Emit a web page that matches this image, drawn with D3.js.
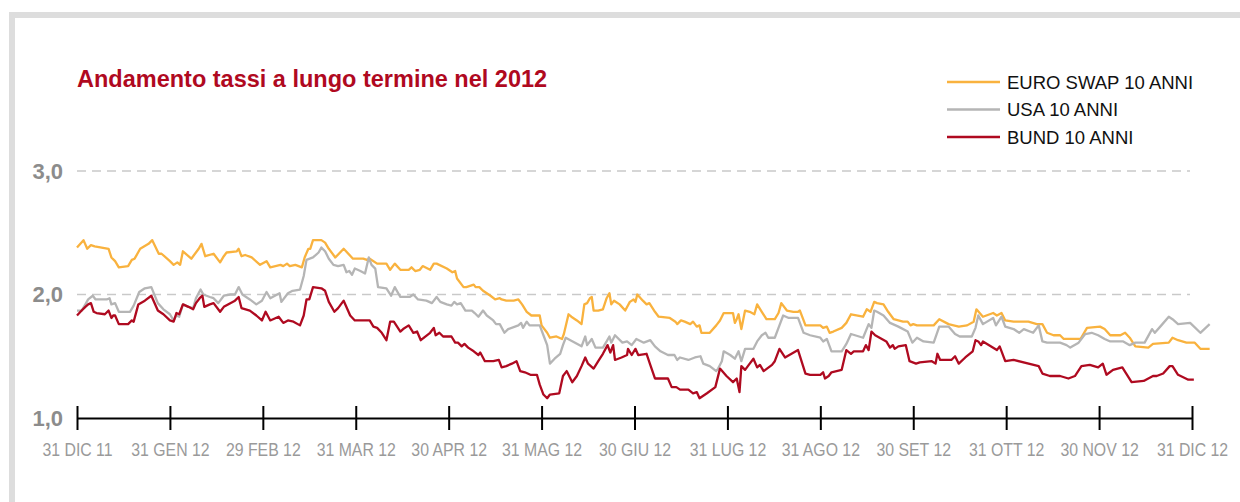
<!DOCTYPE html>
<html><head><meta charset="utf-8">
<script src="https://cdn.jsdelivr.net/npm/d3@7"></script>
<style>
html,body{margin:0;padding:0;background:#fff;}
svg{display:block;}
text{font-family:"Liberation Sans", Arial, Helvetica, sans-serif;}
</style></head><body>
<svg id="chart" width="1240" height="502"></svg>
<script>
// Month-end tick labels (evenly spaced months on the x axis)
const tickLabels = ["31 DIC 11","31 GEN 12","29 FEB 12","31 MAR 12","30 APR 12","31 MAG 12","30 GIU 12","31 LUG 12","31 AGO 12","30 SET 12","31 OTT 12","30 NOV 12","31 DIC 12"];
const yTicks = [1, 2, 3];
const gridTicks = [2, 3];
const title = "Andamento tassi a lungo termine nel 2012";
const seriesNames = ["EURO SWAP 10 ANNI", "USA 10 ANNI", "BUND 10 ANNI"];
const seriesColors = ["#f9b23e", "#b5b5b5", "#af0a20"];

// [months elapsed since 31 Dec 2011, rate %]
const euroSwap = [[0.00,2.38],[0.07,2.44],[0.11,2.37],[0.15,2.40],[0.19,2.39],[0.34,2.37],[0.37,2.30],[0.41,2.27],[0.45,2.22],[0.55,2.23],[0.59,2.28],[0.62,2.29],[0.68,2.37],[0.77,2.41],[0.81,2.44],[0.88,2.33],[0.91,2.33],[1.00,2.27],[1.04,2.24],[1.08,2.26],[1.11,2.24],[1.14,2.35],[1.23,2.29],[1.31,2.37],[1.34,2.41],[1.38,2.31],[1.47,2.33],[1.54,2.26],[1.58,2.31],[1.61,2.34],[1.72,2.35],[1.74,2.37],[1.77,2.31],[1.81,2.32],[1.88,2.30],[1.97,2.24],[2.04,2.27],[2.08,2.22],[2.19,2.24],[2.22,2.23],[2.26,2.25],[2.29,2.23],[2.35,2.24],[2.42,2.22],[2.45,2.30],[2.49,2.37],[2.51,2.37],[2.54,2.44],[2.63,2.44],[2.67,2.42],[2.71,2.37],[2.78,2.30],[2.87,2.37],[2.97,2.29],[3.08,2.29],[3.12,2.28],[3.15,2.29],[3.23,2.25],[3.33,2.25],[3.37,2.20],[3.42,2.25],[3.48,2.20],[3.57,2.20],[3.60,2.22],[3.64,2.19],[3.69,2.20],[3.72,2.23],[3.80,2.20],[3.84,2.25],[3.87,2.25],[3.98,2.21],[4.04,2.18],[4.07,2.19],[4.09,2.13],[4.16,2.06],[4.19,2.06],[4.27,2.08],[4.29,2.06],[4.33,2.06],[4.37,2.03],[4.45,1.99],[4.50,1.96],[4.55,1.97],[4.57,1.96],[4.62,1.95],[4.70,1.95],[4.75,1.96],[4.79,1.92],[4.84,1.86],[4.89,1.83],[4.98,1.83],[5.00,1.75],[5.06,1.69],[5.09,1.65],[5.16,1.66],[5.22,1.64],[5.24,1.68],[5.29,1.84],[5.32,1.82],[5.38,1.79],[5.43,1.76],[5.46,1.92],[5.49,1.93],[5.52,1.97],[5.54,1.98],[5.56,1.87],[5.61,1.87],[5.66,1.88],[5.70,1.97],[5.73,2.01],[5.75,1.92],[5.78,1.95],[5.84,1.92],[5.90,1.87],[5.95,1.94],[5.99,1.96],[6.01,1.94],[6.03,2.00],[6.09,1.95],[6.13,1.92],[6.16,1.93],[6.22,1.86],[6.26,1.82],[6.38,1.81],[6.44,1.78],[6.46,1.76],[6.50,1.79],[6.54,1.78],[6.60,1.76],[6.63,1.78],[6.67,1.74],[6.70,1.75],[6.72,1.69],[6.81,1.69],[6.88,1.75],[6.92,1.79],[6.96,1.85],[7.06,1.85],[7.08,1.77],[7.10,1.80],[7.12,1.84],[7.15,1.72],[7.19,1.87],[7.24,1.86],[7.29,1.84],[7.32,1.92],[7.37,1.86],[7.42,1.80],[7.51,1.80],[7.55,1.85],[7.58,1.93],[7.64,1.87],[7.71,1.86],[7.76,1.86],[7.78,1.87],[7.82,1.79],[7.84,1.75],[7.91,1.75],[8.00,1.75],[8.03,1.73],[8.07,1.74],[8.10,1.69],[8.14,1.70],[8.23,1.73],[8.28,1.77],[8.33,1.84],[8.46,1.82],[8.50,1.88],[8.54,1.86],[8.58,1.94],[8.61,1.93],[8.68,1.92],[8.73,1.86],[8.79,1.80],[8.89,1.78],[8.94,1.78],[8.97,1.75],[9.00,1.76],[9.04,1.75],[9.22,1.75],[9.28,1.80],[9.38,1.76],[9.49,1.74],[9.58,1.75],[9.65,1.78],[9.68,1.88],[9.75,1.82],[9.86,1.85],[9.90,1.83],[9.95,1.85],[9.99,1.79],[10.08,1.78],[10.24,1.78],[10.33,1.76],[10.39,1.76],[10.44,1.69],[10.51,1.67],[10.58,1.67],[10.62,1.64],[10.80,1.64],[10.87,1.73],[11.01,1.74],[11.06,1.72],[11.12,1.67],[11.23,1.67],[11.28,1.69],[11.33,1.65],[11.39,1.58],[11.53,1.57],[11.58,1.60],[11.75,1.61],[11.79,1.65],[11.85,1.63],[11.94,1.61],[12.03,1.61],[12.09,1.56],[12.19,1.56]];

const usa = [[0.00,1.87],[0.05,1.87],[0.09,1.92],[0.12,1.96],[0.17,1.99],[0.20,1.96],[0.32,1.96],[0.35,1.97],[0.37,1.92],[0.41,1.93],[0.45,1.86],[0.57,1.86],[0.61,1.91],[0.67,2.02],[0.73,2.05],[0.80,2.06],[0.87,1.93],[0.93,1.88],[1.00,1.84],[1.04,1.79],[1.07,1.83],[1.10,1.82],[1.14,1.92],[1.20,1.90],[1.25,1.89],[1.28,1.97],[1.33,2.04],[1.36,2.00],[1.43,1.98],[1.47,1.97],[1.52,1.93],[1.58,1.99],[1.65,2.00],[1.70,2.00],[1.74,2.06],[1.78,2.00],[1.86,1.96],[1.93,1.92],[1.99,1.95],[2.04,2.02],[2.08,1.97],[2.13,1.99],[2.18,2.01],[2.20,1.94],[2.27,2.01],[2.32,2.03],[2.40,2.04],[2.44,2.15],[2.47,2.28],[2.54,2.30],[2.60,2.34],[2.63,2.38],[2.67,2.35],[2.71,2.29],[2.76,2.24],[2.81,2.23],[2.87,2.24],[2.90,2.18],[2.93,2.19],[2.96,2.16],[2.99,2.21],[3.05,2.19],[3.10,2.17],[3.14,2.30],[3.17,2.24],[3.21,2.21],[3.24,2.06],[3.33,2.05],[3.38,1.99],[3.42,2.06],[3.48,1.98],[3.58,1.98],[3.62,2.00],[3.67,1.96],[3.76,1.95],[3.82,1.93],[3.87,1.98],[3.91,1.94],[3.98,1.92],[4.03,1.91],[4.06,1.94],[4.09,1.92],[4.13,1.93],[4.18,1.87],[4.25,1.87],[4.28,1.85],[4.32,1.82],[4.37,1.87],[4.41,1.83],[4.48,1.79],[4.51,1.76],[4.55,1.76],[4.60,1.69],[4.64,1.72],[4.75,1.75],[4.78,1.77],[4.80,1.73],[4.84,1.78],[4.87,1.75],[4.98,1.75],[5.02,1.67],[5.06,1.59],[5.09,1.44],[5.14,1.48],[5.20,1.52],[5.23,1.59],[5.26,1.65],[5.31,1.63],[5.36,1.61],[5.43,1.58],[5.47,1.66],[5.49,1.59],[5.54,1.64],[5.58,1.57],[5.66,1.57],[5.70,1.62],[5.73,1.66],[5.75,1.61],[5.79,1.67],[5.87,1.61],[5.92,1.62],[5.97,1.59],[6.02,1.64],[6.10,1.61],[6.17,1.63],[6.22,1.58],[6.28,1.54],[6.36,1.51],[6.43,1.51],[6.46,1.47],[6.49,1.49],[6.58,1.47],[6.65,1.49],[6.71,1.50],[6.74,1.44],[6.81,1.42],[6.88,1.38],[6.90,1.40],[6.94,1.46],[6.96,1.54],[7.03,1.51],[7.08,1.48],[7.12,1.54],[7.15,1.46],[7.19,1.56],[7.28,1.56],[7.32,1.62],[7.37,1.67],[7.41,1.69],[7.44,1.65],[7.51,1.65],[7.56,1.75],[7.60,1.83],[7.66,1.81],[7.76,1.81],[7.82,1.69],[7.89,1.67],[8.00,1.65],[8.03,1.62],[8.07,1.64],[8.12,1.54],[8.23,1.54],[8.28,1.60],[8.33,1.68],[8.46,1.65],[8.52,1.76],[8.55,1.73],[8.58,1.87],[8.61,1.86],[8.68,1.83],[8.75,1.77],[8.84,1.74],[8.94,1.70],[8.99,1.61],[9.04,1.65],[9.11,1.62],[9.22,1.61],[9.28,1.74],[9.38,1.74],[9.45,1.68],[9.50,1.66],[9.63,1.66],[9.67,1.73],[9.70,1.83],[9.75,1.76],[9.86,1.81],[9.89,1.75],[9.95,1.82],[9.99,1.74],[10.08,1.72],[10.14,1.69],[10.19,1.72],[10.29,1.69],[10.35,1.75],[10.39,1.62],[10.44,1.61],[10.58,1.61],[10.65,1.59],[10.69,1.57],[10.78,1.61],[10.85,1.68],[10.92,1.69],[10.99,1.67],[11.06,1.64],[11.12,1.62],[11.26,1.62],[11.33,1.59],[11.39,1.61],[11.49,1.61],[11.57,1.72],[11.60,1.69],[11.67,1.75],[11.75,1.82],[11.79,1.80],[11.85,1.76],[11.98,1.77],[12.09,1.69],[12.19,1.76]];

const bund = [[0.00,1.83],[0.05,1.87],[0.09,1.90],[0.12,1.92],[0.15,1.93],[0.18,1.86],[0.21,1.85],[0.30,1.84],[0.34,1.87],[0.37,1.81],[0.39,1.83],[0.41,1.83],[0.45,1.76],[0.55,1.76],[0.59,1.79],[0.61,1.78],[0.66,1.92],[0.73,1.95],[0.80,1.99],[0.87,1.87],[0.93,1.84],[1.00,1.79],[1.04,1.78],[1.07,1.85],[1.10,1.84],[1.14,1.92],[1.20,1.90],[1.25,1.88],[1.28,1.93],[1.32,1.97],[1.35,1.99],[1.37,1.90],[1.43,1.92],[1.47,1.93],[1.54,1.86],[1.58,1.90],[1.65,1.93],[1.70,1.95],[1.74,1.98],[1.77,1.89],[1.86,1.87],[1.93,1.83],[1.99,1.79],[2.03,1.86],[2.08,1.79],[2.17,1.82],[2.22,1.77],[2.27,1.79],[2.33,1.78],[2.40,1.75],[2.44,1.83],[2.47,1.96],[2.50,1.96],[2.54,2.06],[2.63,2.05],[2.67,2.03],[2.71,1.94],[2.77,1.86],[2.81,1.89],[2.87,1.95],[2.94,1.83],[2.99,1.79],[3.08,1.79],[3.15,1.79],[3.19,1.74],[3.23,1.73],[3.28,1.69],[3.33,1.63],[3.37,1.78],[3.41,1.78],[3.48,1.70],[3.51,1.72],[3.57,1.75],[3.62,1.69],[3.66,1.70],[3.70,1.63],[3.80,1.69],[3.84,1.73],[3.86,1.67],[3.90,1.69],[3.94,1.66],[4.03,1.66],[4.07,1.61],[4.10,1.61],[4.14,1.58],[4.17,1.60],[4.21,1.57],[4.27,1.54],[4.32,1.51],[4.34,1.53],[4.39,1.46],[4.48,1.46],[4.54,1.47],[4.57,1.41],[4.62,1.42],[4.68,1.44],[4.73,1.46],[4.77,1.38],[4.82,1.37],[4.88,1.35],[4.95,1.35],[4.98,1.27],[5.02,1.19],[5.06,1.16],[5.09,1.19],[5.19,1.20],[5.23,1.34],[5.27,1.38],[5.33,1.29],[5.38,1.34],[5.43,1.42],[5.47,1.49],[5.50,1.44],[5.56,1.40],[5.61,1.46],[5.66,1.52],[5.71,1.59],[5.74,1.53],[5.77,1.59],[5.79,1.47],[5.86,1.49],[5.92,1.51],[5.93,1.56],[5.97,1.51],[6.01,1.56],[6.04,1.51],[6.13,1.52],[6.17,1.43],[6.22,1.32],[6.27,1.32],[6.36,1.32],[6.40,1.25],[6.45,1.25],[6.49,1.23],[6.58,1.23],[6.63,1.20],[6.67,1.21],[6.70,1.16],[6.78,1.20],[6.87,1.25],[6.92,1.40],[6.99,1.34],[7.06,1.29],[7.10,1.32],[7.13,1.21],[7.15,1.42],[7.19,1.39],[7.23,1.43],[7.28,1.48],[7.32,1.41],[7.35,1.43],[7.39,1.38],[7.48,1.43],[7.51,1.46],[7.56,1.56],[7.62,1.49],[7.76,1.55],[7.84,1.36],[7.89,1.35],[8.00,1.35],[8.03,1.37],[8.05,1.32],[8.09,1.34],[8.12,1.37],[8.23,1.39],[8.28,1.55],[8.33,1.52],[8.36,1.54],[8.46,1.54],[8.49,1.59],[8.52,1.55],[8.55,1.70],[8.59,1.67],[8.71,1.62],[8.75,1.57],[8.78,1.59],[8.80,1.56],[8.84,1.58],[8.92,1.59],[8.96,1.46],[9.03,1.44],[9.07,1.45],[9.20,1.46],[9.24,1.44],[9.26,1.52],[9.29,1.47],[9.41,1.47],[9.45,1.50],[9.49,1.44],[9.56,1.49],[9.64,1.54],[9.67,1.63],[9.70,1.62],[9.73,1.59],[9.75,1.62],[9.90,1.55],[9.93,1.58],[9.99,1.46],[10.08,1.47],[10.35,1.42],[10.39,1.36],[10.47,1.34],[10.58,1.34],[10.67,1.32],[10.74,1.34],[10.81,1.42],[10.90,1.43],[10.99,1.41],[11.04,1.44],[11.08,1.35],[11.15,1.39],[11.25,1.41],[11.35,1.29],[11.48,1.30],[11.58,1.34],[11.62,1.34],[11.69,1.36],[11.76,1.42],[11.79,1.42],[11.85,1.35],[11.96,1.31],[12.02,1.31]];

const seriesData = [euroSwap, usa, bund];

const svg = d3.select("#chart");

// outer frame
svg.append("rect")
  .attr("x", 12).attr("y", 15).attr("width", 1260).attr("height", 600)
  .attr("fill", "none").attr("stroke", "#dddddd").attr("stroke-width", 6);

const x = d3.scaleLinear().domain([0, 12]).range([77, 1192]);
const y = d3.scaleLinear().domain([1, 3]).range([418, 171]);

// title
svg.append("text")
  .attr("x", 77).attr("y", 87)
  .attr("fill", "#b0091f")
  .attr("font-size", 23.5).attr("font-weight", "bold")
  .text(title);

// dashed grid
svg.append("g").selectAll("line").data(gridTicks).join("line")
  .attr("x1", x(0)).attr("x2", 1190)
  .attr("y1", d => y(d)).attr("y2", d => y(d))
  .attr("stroke", "#c9c9c9").attr("stroke-width", 1.5)
  .attr("stroke-dasharray", "9,6");

// y labels
svg.append("g").selectAll("text").data(yTicks).join("text")
  .attr("x", 63).attr("y", d => y(d) + 7.5)
  .attr("text-anchor", "end")
  .attr("fill", "#8c8c8c").attr("font-size", 22).attr("font-weight", "bold")
  .text(d => d3.format(".1f")(d).replace(".", ","));

// x axis
const axis = d3.axisBottom(x)
  .tickValues(d3.range(tickLabels.length))
  .tickFormat(i => tickLabels[i])
  .tickSize(12).tickSizeOuter(0).tickPadding(13);
const gx = svg.append("g").attr("transform", `translate(0,${y(1)})`).call(axis);
gx.select(".domain").attr("stroke", "#000").attr("stroke-width", 2);
gx.selectAll(".tick line").attr("y1", -12).attr("y2", 12).attr("stroke", "#000").attr("stroke-width", 2);
gx.selectAll(".tick text")
  .attr("fill", "#9a9a9a").attr("font-size", 18)
  .attr("font-family", "'Liberation Sans', Arial, sans-serif")
  .attr("transform", "scale(0.88,1)");

// lines
const line = d3.line().x(d => x(d[0])).y(d => y(d[1]));
svg.append("g").selectAll("path").data(seriesData).join("path")
  .attr("d", line)
  .attr("fill", "none")
  .attr("stroke", (d, i) => seriesColors[i])
  .attr("stroke-width", 2.3)
  .attr("stroke-linejoin", "round");

// legend
const lg = svg.append("g").selectAll("g").data(seriesNames).join("g")
  .attr("transform", (d, i) => `translate(947,${82 + i * 27.5})`);
lg.append("line").attr("x1", 0).attr("x2", 53)
  .attr("stroke", (d, i) => seriesColors[i]).attr("stroke-width", 2.3);
lg.append("text").attr("x", 60).attr("y", 6.5)
  .attr("font-size", 18.5).attr("fill", "#111")
  .text(d => d);
</script>
</body></html>
